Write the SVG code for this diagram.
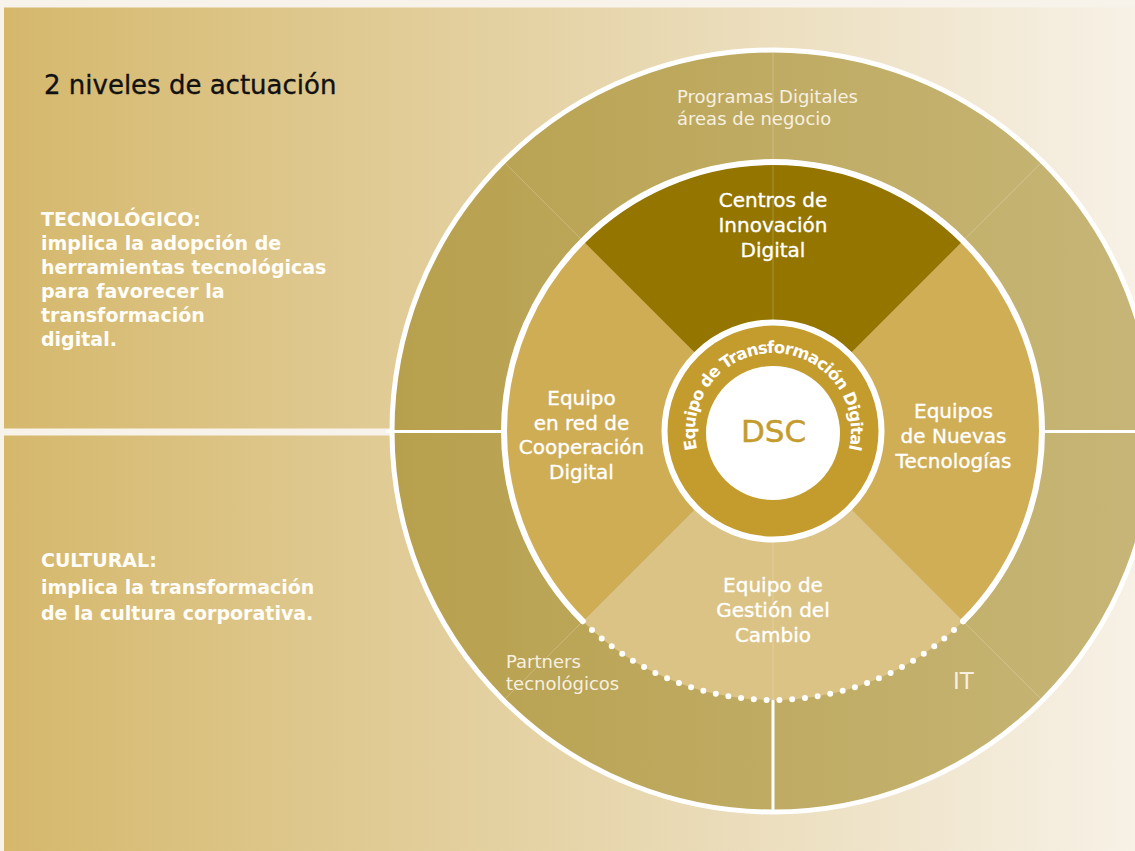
<svg xmlns="http://www.w3.org/2000/svg" width="1135" height="851" viewBox="0 0 1135 851">
<defs>
<linearGradient id="bg" gradientUnits="userSpaceOnUse" x1="4" y1="0" x2="1135" y2="0">
<stop offset="0" stop-color="#d5b86c"/><stop offset="1" stop-color="#f7f1e6"/>
</linearGradient>
<linearGradient id="ringGrad" gradientUnits="userSpaceOnUse" x1="390" y1="0" x2="1154" y2="0">
<stop offset="0" stop-color="#b7a04d"/><stop offset="1" stop-color="#c7b678"/>
</linearGradient>
<path id="arcText" d="M773,509 A78,78 0 1,1 773,353 A78,78 0 1,1 773,509"/>
</defs>
<style>
text{font-family:"DejaVu Sans","Liberation Sans",sans-serif}
.title{font-size:26px;fill:#111;stroke:#111;stroke-width:0.35}
.side{font-size:19px;font-weight:bold;fill:#fffdf8}
.lbl{font-size:20px;fill:#fff;stroke:#fff;stroke-width:0.35;text-anchor:middle}
.light{font-size:18px;fill:#f7f0e0}
.sep{stroke:#fff;stroke-width:3;fill:none}
.faint{stroke:#fff;stroke-opacity:0.22;stroke-width:1;fill:none}
.arc{stroke:#fff;stroke-width:6;fill:none;stroke-linecap:round}
</style>

<g id="background">
<rect width="1135" height="851" fill="#f7f3ea"/>
<rect x="4" y="7.5" width="1131" height="843.5" fill="url(#bg)"/>
<rect x="4" y="428.5" width="390" height="7" fill="#f7f3ea"/>
</g>

<g id="legend">
<text class="title" x="44" y="93.5">2 niveles de actuación</text>
<text class="side" x="41" y="226">TECNOLÓGICO:</text>
<text class="side" x="41" y="250">implica la adopción de</text>
<text class="side" x="41" y="274">herramientas tecnológicas</text>
<text class="side" x="41" y="298">para favorecer la</text>
<text class="side" x="41" y="322">transformación</text>
<text class="side" x="41" y="346">digital.</text>
<text class="side" x="41" y="567">CULTURAL:</text>
<text class="side" x="41" y="593.5">implica la transformación</text>
<text class="side" x="41" y="620">de la cultura corporativa.</text>
</g>

<g id="outer-ring">
<circle cx="773" cy="431" r="381" fill="url(#ringGrad)" stroke="#fff" stroke-width="5"/>
</g>

<g id="programas-digitales">
<text class="light" x="677" y="103">Programas Digitales</text>
<text class="light" x="677" y="124.5">áreas de negocio</text>
</g>
<g id="partners">
<text class="light" x="506" y="667.5">Partners</text>
<text class="light" x="506" y="689.5">tecnológicos</text>
</g>
<g id="it">
<text class="light" x="953" y="688.5" style="font-size:23px">IT</text>
</g>

<g id="centros-innovacion">
<path d="M773,431 L582.79,240.79 A269,269 0 0 1 963.21,240.79 Z" fill="#937500"/>
<text class="lbl" x="773" y="207">Centros de</text>
<text class="lbl" x="773" y="232">Innovación</text>
<text class="lbl" x="773" y="257">Digital</text>
</g>

<g id="equipos-nuevas-tecnologias">
<path d="M773,431 L963.21,240.79 A269,269 0 0 1 963.21,621.21 Z" fill="#d0ae56"/>
<text class="lbl" x="953.5" y="418">Equipos</text>
<text class="lbl" x="953.5" y="443">de Nuevas</text>
<text class="lbl" x="953.5" y="467.5">Tecnologías</text>
</g>

<g id="equipo-gestion-cambio">
<path d="M773,431 L963.21,621.21 A269,269 0 0 1 582.79,621.21 Z" fill="#dbc385"/>
<text class="lbl" x="773" y="592">Equipo de</text>
<text class="lbl" x="773" y="617">Gestión del</text>
<text class="lbl" x="773" y="641.5">Cambio</text>
</g>

<g id="equipo-red-cooperacion">
<path d="M773,431 L582.79,621.21 A269,269 0 0 1 582.79,240.79 Z" fill="#cfad55"/>
<text class="lbl" x="581.5" y="405">Equipo</text>
<text class="lbl" x="581.5" y="429.5">en red de</text>
<text class="lbl" x="581.5" y="454">Cooperación</text>
<text class="lbl" x="581.5" y="478.5">Digital</text>
</g>

<g id="connectors">
<line class="faint" x1="582.79" y1="240.79" x2="503.6" y2="161.6"/>
<line class="faint" x1="963.21" y1="240.79" x2="1042.4" y2="161.6"/>
<line class="faint" x1="963.21" y1="621.21" x2="1042.4" y2="700.4"/>
<line class="faint" x1="582.79" y1="621.21" x2="503.6" y2="700.4"/>
<line class="faint" x1="773" y1="52" x2="773" y2="322"/>
<line class="faint" x1="773" y1="540" x2="773" y2="700"/>
<line class="sep" x1="386" y1="431.5" x2="504" y2="431.5"/>
<line class="sep" x1="1042" y1="431.5" x2="1135" y2="431.5"/>
<line class="sep" x1="773" y1="700" x2="773" y2="813"/>
<path class="arc" d="M582.79,621.21 A269,269 0 1 1 963.21,621.21"/>
<path class="arc" d="M963.21,621.21 A269,269 0 0 1 582.79,621.21" pathLength="33" stroke-dasharray="0 1"/>
</g>

<g id="dsc">
<circle cx="773" cy="431" r="108.5" fill="#c49c2e" stroke="#fff" stroke-width="6"/>
<circle cx="773" cy="433" r="67" fill="#fff"/>
<text x="773.5" y="442" text-anchor="middle" style="font-size:31px;fill:#c49c2e;stroke:#c49c2e;stroke-width:0.5">DSC</text>
<text style="font-size:16.5px;font-weight:bold;fill:#fff"><textPath href="#arcText" startOffset="50%" text-anchor="middle" textLength="282" lengthAdjust="spacing">Equipo de Transformación Digital</textPath></text>
</g>
</svg>
